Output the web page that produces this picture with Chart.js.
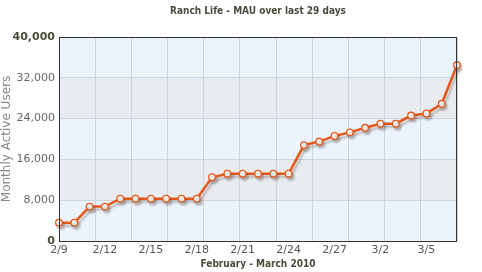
<!DOCTYPE html>
<html>
<head>
<meta charset="utf-8">
<script src="https://cdn.jsdelivr.net/npm/chart.js@4.4.1/dist/chart.umd.min.js"></script>
<style>
  html, body { margin: 0; padding: 0; background: #fff; }
  #wrap { width: 482px; height: 272px; }
</style>
</head>
<body>
<div id="wrap"><canvas id="mauChart"></canvas></div>
<script>
// Ranch Life MAU, 2/9 - 3/7 2010
const dayLabels = [
    "2/9", "2/10", "2/11", "2/12", "2/13", "2/14", "2/15", "2/16", "2/17",
    "2/18", "2/19", "2/20", "2/21", "2/22", "2/23", "2/24", "2/25", "2/26",
    "2/27", "2/28", "3/1", "3/2", "3/3", "3/4", "3/5", "3/6", "3/7"
];
const mauValues = [
    3600, 3600, 6750, 6750, 8300, 8300, 8300, 8300, 8300,
    8300, 12500, 13200, 13200, 13200, 13200, 13200, 18800, 19500,
    20600, 21300, 22200, 23000, 23000, 24600, 25000, 26900, 34500
];
const yTicks = [0, 8000, 16000, 24000, 32000, 40000];

const FONT = "'DejaVu Sans', Verdana, sans-serif";
const FONT_BOLD = "'DejaVu Sans Condensed', 'DejaVu Sans', Verdana, sans-serif";

// alternating bands + border around plot
const plotBg = {
    id: "plotBg",
    beforeDraw(chart) {
        const { ctx, chartArea: a, scales } = chart;
        const y = scales.y;
        ctx.save();
        for (let i = 0; i < yTicks.length - 1; i++) {
            const top = y.getPixelForValue(yTicks[i + 1]);
            const bot = y.getPixelForValue(yTicks[i]);
            ctx.fillStyle = i % 2 === 0 ? "#EBF4FC" : "#E8ECF0";
            ctx.fillRect(a.left, top, a.right - a.left, bot - top);
        }
        ctx.restore();
    },
    afterDraw(chart) {
        const { ctx, chartArea: a } = chart;
        ctx.save();
        ctx.strokeStyle = "#333";
        ctx.lineWidth = 1;
        ctx.strokeRect(Math.round(a.left) + 0.5, Math.round(a.top) + 0.5,
            Math.round(a.right - a.left) - 1, Math.round(a.bottom - a.top));
        ctx.restore();
    }
};

// soft drop shadow under the line
const lineShadow = {
    id: "lineShadow",
    beforeDatasetDraw(chart) {
        const ctx = chart.ctx;
        ctx.save();
        ctx.shadowColor = "rgba(90, 70, 60, 0.3)";
        ctx.shadowOffsetX = 2;
        ctx.shadowOffsetY = 3;
        ctx.shadowBlur = 2;
    },
    afterDatasetDraw(chart) {
        chart.ctx.restore();
    }
};

new Chart(document.getElementById("mauChart"), {
    type: "line",
    data: {
        labels: dayLabels,
        datasets: [{
            data: mauValues,
            borderColor: "#E4581C",
            borderWidth: 2.5,
            pointRadius: 3.3,
            pointBackgroundColor: "#fff",
            pointBorderColor: "#E4581C",
            pointBorderWidth: 1.3,
            tension: 0,
            fill: false
        }]
    },
    options: {
        responsive: true,
        maintainAspectRatio: false,
        animation: false,
        layout: { padding: { left: 0, right: 25, top: 0, bottom: 0 } },
        plugins: {
            legend: { display: false },
            tooltip: { enabled: false },
            title: {
                display: true,
                text: "Ranch Life - MAU over last 29 days",
                fullSize: false,
                color: "#4B4B3C",
                font: { family: FONT_BOLD, size: 10, weight: "bold" },
                padding: { top: 5, bottom: 20 }
            }
        },
        scales: {
            x: {
                offset: false,
                grid: { display: false, drawTicks: false },
                border: { display: false },
                ticks: {
                    autoSkip: false,
                    maxRotation: 0,
                    padding: 3,
                    color: "#555",
                    font: { family: FONT, size: 11 },
                    callback: (v, i) => (i % 3 === 0 ? dayLabels[i] : "")
                },
                title: {
                    display: true,
                    text: "February - March 2010",
                    color: "#4B4B3C",
                    font: { family: FONT_BOLD, size: 10, weight: "bold" },
                    padding: { top: 0, bottom: 2 }
                },
                afterFit: (s) => { s.height = 31; }
            },
            vgrid: {
                type: "linear",
                position: "top",
                min: 0,
                max: 11,
                grid: { color: "#CDD4DB", drawTicks: false },
                border: { display: false },
                ticks: { display: false, stepSize: 1 },
                afterFit: (s) => { s.height = 0; }
            },
            y: {
                min: 0,
                max: 40000,
                afterBuildTicks: (s) => { s.ticks = yTicks.map(v => ({ value: v })); },
                grid: { color: "#CDD4DB", drawTicks: false },
                border: { display: false },
                ticks: {
                    padding: 4,
                    color: (c) => (c.tick.value === 0 || c.tick.value === 40000 ? "#4B4B3C" : "#666"),
                    font: (c) => ({
                        family: FONT,
                        size: 11,
                        weight: c.tick && (c.tick.value === 0 || c.tick.value === 40000) ? "bold" : "normal"
                    }),
                    callback: (v) => v.toLocaleString("en-US")
                },
                title: {
                    display: true,
                    text: "Monthly Active Users",
                    color: "#888",
                    font: { family: FONT, size: 12 },
                    padding: { top: 0, bottom: 0 }
                },
                afterFit: (s) => { s.width = 59; }
            }
        }
    },
    plugins: [plotBg, lineShadow]
});
</script>
</body>
</html>
